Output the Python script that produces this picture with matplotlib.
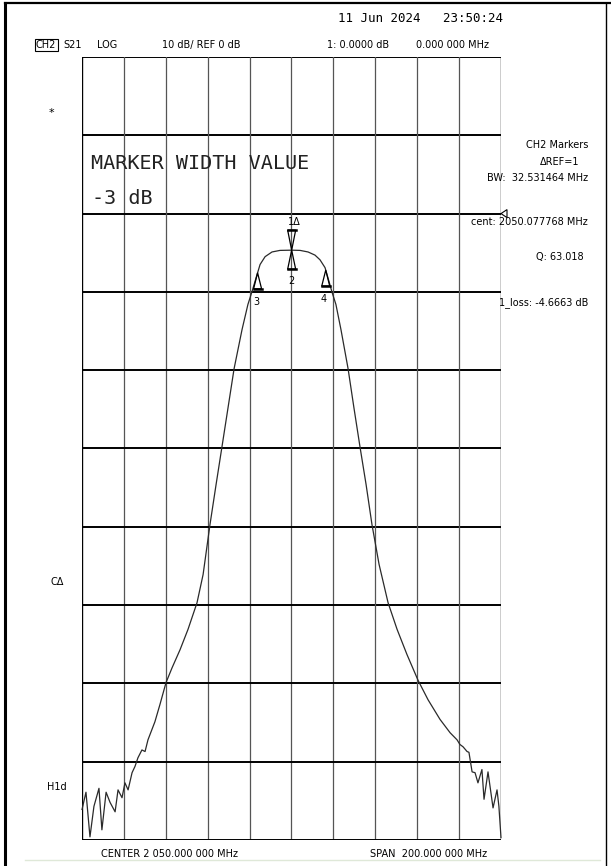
import numpy as np
import matplotlib
matplotlib.use("Agg")
import matplotlib.pyplot as plt
from matplotlib.patches import Polygon
from matplotlib.transforms import IdentityTransform

W, H = 611, 866
DPI = 100

# ---- data (MHz, dB) ----
freq_mhz = [1950.0, 1951.9, 1953.8, 1955.7, 1958.1, 1959.5, 1961.5, 1963.4, 1965.8, 1967.2,
            1969.1, 1970.5, 1972.0, 1973.9, 1975.3, 1976.7, 1978.6, 1980.1, 1981.5, 1984.8,
            1987.2, 1990.1, 1993.0, 1996.8, 2000.6, 2004.9, 2007.8, 2011.1, 2014.0, 2016.8,
            2019.7, 2022.6, 2026.4, 2029.2, 2031.1, 2033.1, 2035.0, 2037.4, 2040.7, 2044.5,
            2050.1, 2054.1, 2057.9, 2061.2, 2063.6, 2066.0, 2067.4, 2069.3, 2071.2, 2073.6,
            2077.0, 2079.8, 2082.7, 2085.6, 2088.4, 2091.8, 2096.1, 2100.4, 2105.1, 2110.4,
            2115.2, 2120.9, 2125.7, 2129.0, 2130.4, 2131.9, 2133.8, 2134.7, 2136.2, 2137.6,
            2139.0, 2140.9, 2141.9, 2143.8, 2146.2, 2148.1, 2149.0, 2150.0]
s21_db = [-76.1, -73.9, -79.6, -75.7, -73.4, -78.7, -73.9, -75.2, -76.4, -73.6,
          -74.6, -72.7, -73.6, -71.4, -70.6, -69.5, -68.5, -68.7, -67.2, -64.9,
          -62.7, -59.9, -58.0, -55.7, -53.1, -49.7, -46.1, -39.7, -34.6, -29.8,
          -24.8, -19.8, -14.8, -11.6, -10.0, -8.2, -6.5, -5.5, -4.9, -4.7,
          -4.67, -4.7, -4.9, -5.3, -5.9, -6.9, -8.2, -10.0, -11.6, -14.8,
          -19.8, -24.8, -29.8, -34.6, -39.7, -44.8, -49.7, -53.1, -56.3, -59.6,
          -62.1, -64.6, -66.3, -67.2, -67.8, -68.1, -68.7, -68.8, -71.3, -71.4,
          -72.7, -71.0, -74.8, -71.3, -75.9, -73.6, -75.7, -79.7]

center_mhz = 2050.0
span_mhz = 200.0
ref_db = 0.0
scale_db = 10.0
top_db = 20.0

marker_cent = 2050.077768
marker_bw = 32.531464
marker_loss = -4.6663
marker_q = 63.018

plt.rcParams['font.family'] = ['DejaVu Sans']

fig = plt.figure(figsize=(W / DPI, H / DPI), dpi=DPI)
fig.patch.set_facecolor('white')

# grid area in pixels
gx0, gx1, gy0, gy1 = 82, 501, 57, 840
ax = fig.add_axes([gx0 / W, 1 - gy1 / H, (gx1 - gx0) / W, (gy1 - gy0) / H])
f0 = center_mhz - span_mhz / 2
f1 = center_mhz + span_mhz / 2
ax.set_xlim(f0, f1)
ax.set_ylim(top_db - 10 * scale_db, top_db)
ax.set_axis_off()

for k in range(11):
    yv = top_db - k * scale_db
    ax.plot([f0, f1], [yv, yv], color='black', lw=1.4, solid_capstyle='butt', zorder=1)
    xv = f0 + k * span_mhz / 10
    ax.plot([xv, xv], [top_db - 10 * scale_db, top_db], color='#555555' if 0 < k < 10 else 'black',
            lw=0.9 if 0 < k < 10 else 1.0, zorder=1)

ax.plot(freq_mhz, s21_db, color='#2a2a2a', lw=0.9, zorder=3, clip_on=False)

fig.canvas.draw()

def to_disp(f, db):
    return ax.transData.transform((f, db))

def px(x, y):
    # image pixel (origin top-left) -> figure fraction
    return x / W, 1 - y / H

def tri(f, db, up=True, h=17, w=8):
    x, y = to_disp(f, db)
    if up:
        pts = [(x, y), (x - w / 2, y - h), (x + w / 2, y - h)]
    else:
        pts = [(x, y), (x - w / 2, y + h), (x + w / 2, y + h)]
    p = Polygon(pts, closed=True, fill=False, edgecolor='black', lw=0.9, transform=IdentityTransform())
    fig.add_artist(p)
    yb = pts[1][1]
    fig.add_artist(plt.Line2D([x - w / 2, x + w / 2], [yb, yb], color='black', lw=1.8,
                              transform=IdentityTransform()))

m_db = float(np.interp(marker_cent, freq_mhz, s21_db))
f3 = marker_cent - marker_bw / 2
f4 = marker_cent + marker_bw / 2
d3 = float(np.interp(f3, freq_mhz, s21_db))
d4 = float(np.interp(f4, freq_mhz, s21_db))
tri(marker_cent, m_db, up=False, h=20)
tri(marker_cent, m_db, up=True, h=19)
tri(f3, d3, up=True, h=16)
tri(f4, d4, up=True, h=16)

def disp_to_img(f, db):
    x, y = to_disp(f, db)
    return x, H - y

mx, my = disp_to_img(marker_cent, m_db)
fig.text(*px(mx + 3, my - 28), '1\u0394', ha='center', va='center', fontsize=7)
fig.text(*px(mx, my + 31), '2', ha='center', va='center', fontsize=7)
x3, y3 = disp_to_img(f3, d3)
x4, y4 = disp_to_img(f4, d4)
fig.text(*px(x3 - 1, y3 + 29), '3', ha='center', va='center', fontsize=7)
fig.text(*px(x4 - 2, y4 + 29), '4', ha='center', va='center', fontsize=7)

# reference arrow at right edge
xr, yr = to_disp(f1, ref_db)
fig.add_artist(Polygon([(xr, yr), (xr + 6, yr + 4), (xr + 6, yr - 4)], closed=True, fill=False,
                       edgecolor='black', lw=0.8, transform=IdentityTransform()))

mono = 'DejaVu Sans Mono'
# header
fig.text(*px(338, 18), '11 Jun 2024   23:50:24', family=mono, fontsize=9, va='center', ha='left')
fig.text(*px(36, 45), 'CH2', fontsize=7, va='center', ha='left',
         bbox=dict(boxstyle='square,pad=0.15', fc='white', ec='black', lw=0.8))
fig.text(*px(63, 45), 'S21', fontsize=7, va='center', ha='left')
fig.text(*px(97, 45), 'LOG', fontsize=7, va='center', ha='left')
fig.text(*px(162, 45), f'{scale_db:.0f} dB/ REF {ref_db:.0f} dB', fontsize=7, va='center', ha='left')
fig.text(*px(327, 45), '1: 0.0000 dB', fontsize=7, va='center', ha='left')
fig.text(*px(416, 45), '0.000 000 MHz', fontsize=7, va='center', ha='left')

# big annotation
fig.text(*px(91, 163), 'MARKER WIDTH VALUE', family=mono, fontsize=14.5, va='center', ha='left',
         color='#222222')
fig.text(*px(92, 198), '-3 dB', family=mono, fontsize=14.5, va='center', ha='left', color='#222222')

# right panel
fig.text(*px(588, 145), 'CH2 Markers', fontsize=7, va='center', ha='right')
fig.text(*px(579, 162), '\u0394REF=1', fontsize=7, va='center', ha='right')
fig.text(*px(588, 178), f'BW:  {marker_bw:.6f} MHz', fontsize=7, va='center', ha='right')
fig.text(*px(588, 222), f'cent: {marker_cent:.6f} MHz', fontsize=7, va='center', ha='right')
fig.text(*px(584, 257), f'Q: {marker_q:.3f}', fontsize=7, va='center', ha='right')
fig.text(*px(588, 303), f'1_loss: {marker_loss:.4f} dB', fontsize=7, va='center', ha='right')

# left annotations
fig.text(*px(51, 113), '*', fontsize=8, va='center', ha='center')
fig.text(*px(57, 582), 'C\u0394', fontsize=7, va='center', ha='center')
fig.text(*px(57, 787), 'H1d', fontsize=7, va='center', ha='center')

# bottom
fig.text(*px(101, 854), 'CENTER 2 050.000 000 MHz', fontsize=7, va='center', ha='left')
fig.text(*px(370, 854), 'SPAN  200.000 000 MHz', fontsize=7, va='center', ha='left')

# outer frame
fig.add_artist(plt.Line2D([5 / W, 5 / W], [0, 1 - 3 / H], color='black', lw=2.2))
fig.add_artist(plt.Line2D([5 / W, 1], [1 - 3 / H, 1 - 3 / H], color='black', lw=1.6))
fig.add_artist(plt.Line2D([606 / W, 606 / W], [0, 1 - 3 / H], color='black', lw=1.0))
fig.add_artist(plt.Line2D([25 / W, 600 / W], [1 - 860 / H, 1 - 860 / H], color='#dfe8d8', lw=1.0))

fig.savefig('out.png', dpi=DPI, facecolor='white')
